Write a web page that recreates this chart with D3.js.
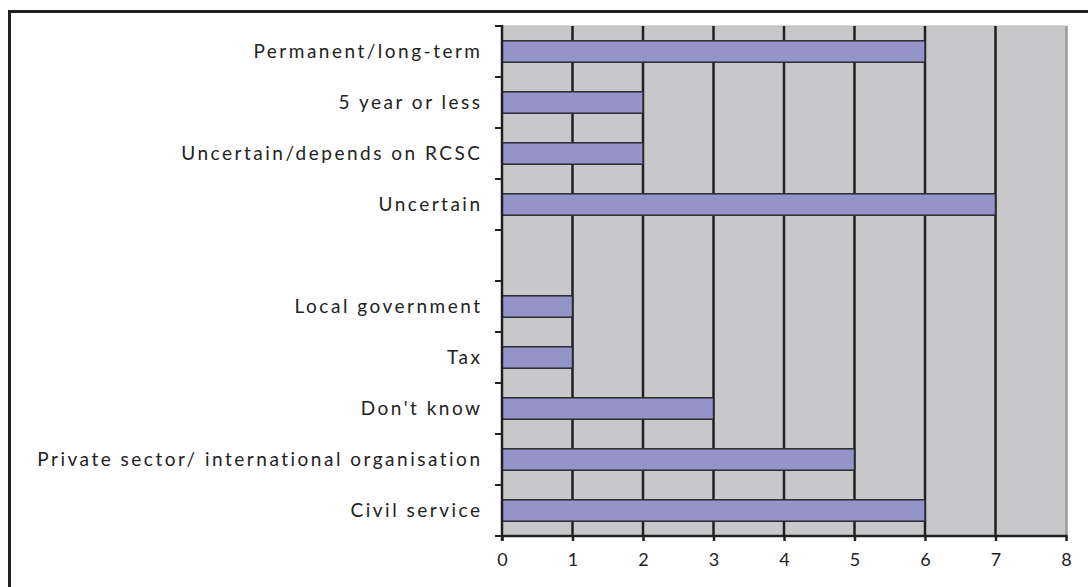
<!DOCTYPE html>
<html>
<head>
<meta charset="utf-8">
<script src="https://cdn.jsdelivr.net/npm/d3@7"></script>
<style>
  html, body { margin: 0; padding: 0; background: #fff; }
  svg { display: block; }
  text { font-family: Lato, "Open Sans", "DejaVu Sans", sans-serif; fill: #222; }
</style>
</head>
<body>
<svg id="chart" width="1088" height="587"></svg>
<script>
// Categories top to bottom; the empty entry is a spacer row between the two groups
const categories = [
  "Permanent/long-term",
  "5 year or less",
  "Uncertain/depends on RCSC",
  "Uncertain",
  "",
  "Local government",
  "Tax",
  "Don't know",
  "Private sector/ international organisation",
  "Civil service"
];
const counts = [6, 2, 2, 7, null, 1, 1, 3, 5, 6];
const xTicks = [0, 1, 2, 3, 4, 5, 6, 7, 8];

const rows = categories.map((c, i) => ({ key: "row" + i, label: c, value: counts[i] }));

const svg = d3.select("#chart");
const plot = { left: 502, right: 1066, top: 26, bottom: 536 };
const labelSpacing = 2.5;

const x = d3.scaleLinear().domain([0, 8]).range([plot.left, plot.right]);
const y = d3.scaleBand()
  .domain(rows.map(d => d.key))
  .range([plot.top, plot.bottom])
  .paddingInner(0.58)
  .paddingOuter(0.29);

// outer frame (only top and left edges fall inside the canvas)
svg.append("path")
  .attr("d", `M9.5,600 L9.5,11.5 L1100,11.5`)
  .attr("fill", "none")
  .attr("stroke", "#231f20")
  .attr("stroke-width", 3);

// plot background
svg.append("rect")
  .attr("x", plot.left).attr("y", plot.top)
  .attr("width", plot.right - plot.left)
  .attr("height", plot.bottom - plot.top)
  .attr("fill", "#c8c8ca");

// top and right edge of plot area
svg.append("line")
  .attr("x1", plot.left).attr("x2", plot.right)
  .attr("y1", plot.top).attr("y2", plot.top)
  .attr("stroke", "#b8b8b8").attr("stroke-width", 1);
svg.append("line")
  .attr("x1", plot.right + 0.5).attr("x2", plot.right + 0.5)
  .attr("y1", plot.top).attr("y2", plot.bottom)
  .attr("stroke", "#9a9a9a").attr("stroke-width", 2.5);

// vertical gridlines
svg.append("g")
  .selectAll("line")
  .data(xTicks.filter(t => t > 0 && t < 8))
  .join("line")
  .attr("x1", d => x(d)).attr("x2", d => x(d))
  .attr("y1", plot.top).attr("y2", plot.bottom)
  .attr("stroke", "#231f20")
  .attr("stroke-width", 2.5);

// bars
svg.append("g")
  .selectAll("rect")
  .data(rows.filter(d => d.value != null))
  .join("rect")
  .attr("x", x(0))
  .attr("y", d => y(d.key))
  .attr("width", d => x(d.value) - x(0))
  .attr("height", y.bandwidth())
  .attr("fill", "#9494c8")
  .attr("stroke", "#2a2a33")
  .attr("stroke-width", 1.5);

// x axis
const xAxis = d3.axisBottom(x)
  .tickValues(xTicks)
  .tickSize(5)
  .tickPadding(12)
  .tickFormat(d3.format("d"));
const gx = svg.append("g")
  .attr("transform", `translate(0,${plot.bottom})`)
  .call(xAxis);
gx.attr("font-family", null).attr("font-size", null);
gx.select(".domain").attr("stroke", "#231f20").attr("stroke-width", 2.5)
  .attr("d", `M${plot.left},0H${plot.right + 1.5}`);
gx.selectAll(".tick line").attr("stroke", "#231f20").attr("stroke-width", 2.5);
gx.selectAll(".tick text")
  .style("font-size", "18px")
  .style("font-family", "Lato, 'Open Sans', sans-serif")
  .attr("fill", "#222");

// y axis: tick marks at row boundaries
const boundaries = d3.range(rows.length + 1).map(i => plot.top + i * y.step());
svg.append("g")
  .selectAll("line")
  .data(boundaries)
  .join("line")
  .attr("x1", plot.left - 7).attr("x2", plot.left)
  .attr("y1", d => d).attr("y2", d => d)
  .attr("stroke", "#231f20")
  .attr("stroke-width", 2);
svg.append("line")
  .attr("x1", plot.left).attr("x2", plot.left)
  .attr("y1", plot.top - 1).attr("y2", plot.bottom + 5)
  .attr("stroke", "#231f20")
  .attr("stroke-width", 2.5);

// category labels
svg.append("g")
  .selectAll("text")
  .data(rows)
  .join("text")
  .attr("x", 480 + labelSpacing)
  .attr("y", d => y(d.key) + y.bandwidth() / 2)
  .attr("dy", "0.35em")
  .attr("text-anchor", "end")
  .style("font-size", "19px")
  .style("letter-spacing", labelSpacing + "px")
  .text(d => d.label);
</script>
</body>
</html>
